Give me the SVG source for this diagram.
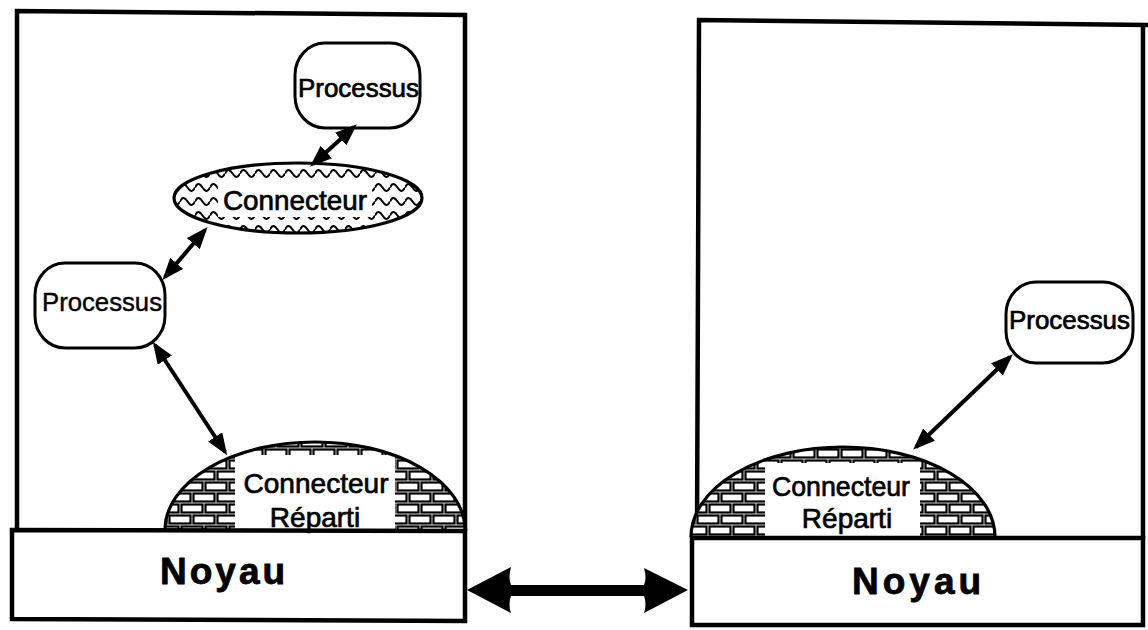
<svg xmlns="http://www.w3.org/2000/svg" width="1148" height="630" viewBox="0 0 1148 630">
  <defs>
    <style>
      .frame { fill: none; stroke: #000; stroke-width: 4.5; stroke-linejoin: miter; }
      .box { fill: #fff; stroke: #000; stroke-width: 3; }
      .outline { fill: none; stroke: #000; stroke-width: 3.2; }
      .label { font-family: "Liberation Sans", Arial, Helvetica, sans-serif; fill: #000; stroke: #000; stroke-width: 0.7; }
      .proc { font-size: 25px; }
      .conn { font-size: 28px; text-anchor: middle; }
      .kernel { font-size: 37px; font-weight: bold; letter-spacing: 3px; stroke-width: 0.8; }
      .link { stroke: #000; stroke-width: 4; fill: none; marker-start: url(#head); marker-end: url(#head); }
    </style>
    <!-- brick fill for the distributed connector domes -->
    <pattern id="bricks" patternUnits="userSpaceOnUse" x="0" y="8" width="24" height="22">
      <rect width="24" height="22" fill="#fff"/>
      <g fill="none" stroke="#000" stroke-width="2.2">
        <rect x="1.5" y="1.5" width="21" height="8"/>
        <rect x="-10.5" y="12.5" width="21" height="8"/>
        <rect x="13.5" y="12.5" width="21" height="8"/>
      </g>
    </pattern>
    <!-- wavy fill for the local connector -->
    <pattern id="waves" patternUnits="userSpaceOnUse" x="0" y="0" width="15" height="14">
      <rect width="15" height="14" fill="#fff"/>
      <path d="M0,7 Q1.9,3 3.75,3.5 Q5.6,4 7.5,7 Q9.4,10 11.25,10.5 Q13.1,11 15,7" transform="translate(0,-1.5)" fill="none" stroke="#000" stroke-width="2"/>
    </pattern>
    <marker id="head" viewBox="0 0 22 17" refX="18" refY="8.5" markerWidth="22" markerHeight="17" markerUnits="userSpaceOnUse" orient="auto-start-reverse">
      <path d="M0,0 L22,8.5 L0,17 Z" fill="#000"/>
    </marker>
  </defs>

  <!-- left site -->
  <g id="site-left">
    <path class="frame" d="M17,530 L17,11 L465,15 L465,531"/>
  </g>
  <g id="dome-left">
    <path d="M165,530 A150,88 0 0 1 465,530 Z" fill="url(#bricks)"/>
    <rect x="235" y="455" width="160" height="75" fill="#fff"/>
    <path class="outline" d="M165,530 A150,88 0 0 1 465,530"/>
    <text class="label conn" x="316" y="493" textLength="145" lengthAdjust="spacingAndGlyphs">Connecteur</text>
    <text class="label conn" x="315" y="527">Réparti</text>
  </g>
  <g id="kernel-left">
    <path class="frame" d="M12,530 L465,531 L465,621 L12,619 Z" fill="#fff"/>
    <text class="label kernel" x="160" y="584">Noyau</text>
  </g>
  <g id="proc-top">
    <rect class="box" x="295" y="43" width="125" height="85" rx="30" ry="32"/>
    <text class="label proc" x="298" y="97" textLength="121" lengthAdjust="spacingAndGlyphs">Processus</text>
  </g>
  <g id="connector-local">
    <ellipse cx="298" cy="198" rx="124" ry="35" fill="url(#waves)"/>
    <rect x="218" y="183" width="154" height="34" fill="#fff"/>
    <ellipse class="outline" cx="298" cy="198" rx="124" ry="35"/>
    <text class="label conn" x="295" y="210" textLength="144" lengthAdjust="spacingAndGlyphs">Connecteur</text>
  </g>
  <g id="proc-left">
    <rect class="box" x="35" y="263" width="130" height="85" rx="30" ry="32"/>
    <text class="label proc" x="42" y="311" textLength="120" lengthAdjust="spacingAndGlyphs" style="stroke-width:0.4">Processus</text>
  </g>

  <!-- right site -->
  <g id="site-right">
    <path class="frame" d="M697,538 L699,20 L1148,25"/>
    <path class="frame" d="M1143,25 L1143,538"/>
  </g>
  <g id="dome-right">
    <path d="M691,537 A152,90 0 0 1 995,537 Z" fill="url(#bricks)"/>
    <rect x="765" y="463" width="155" height="74" fill="#fff"/>
    <path class="outline" d="M691,537 A152,90 0 0 1 995,537"/>
    <text class="label conn" x="841" y="496" textLength="138" lengthAdjust="spacingAndGlyphs">Connecteur</text>
    <text class="label conn" x="847" y="528">Réparti</text>
  </g>
  <g id="kernel-right">
    <path class="frame" d="M692,538 L1143,538 L1143,625 L692,625 Z" fill="#fff"/>
    <text class="label kernel" x="852" y="594" style="letter-spacing:4px">Noyau</text>
  </g>
  <g id="proc-right">
    <rect class="box" x="1006" y="282" width="127" height="81" rx="30" ry="32"/>
    <text class="label proc" x="1009" y="329" textLength="121" lengthAdjust="spacingAndGlyphs">Processus</text>
  </g>

  <!-- connectors -->
  <g id="connectors">
    <line class="link" x1="354" y1="127" x2="313" y2="164"/>
    <line class="link" x1="205" y1="230" x2="165" y2="277"/>
    <line class="link" x1="155" y1="345" x2="225" y2="452"/>
    <line class="link" x1="1010" y1="357" x2="916" y2="447"/>
    <path id="kernel-link" d="M467,590 L511,567 Q508,578 511,585 L644,585 Q647,578 644,568 L688,590 L644,613 Q647,604 644,596 L511,596 Q508,604 511,613 Z" fill="#000"/>
  </g>
</svg>
